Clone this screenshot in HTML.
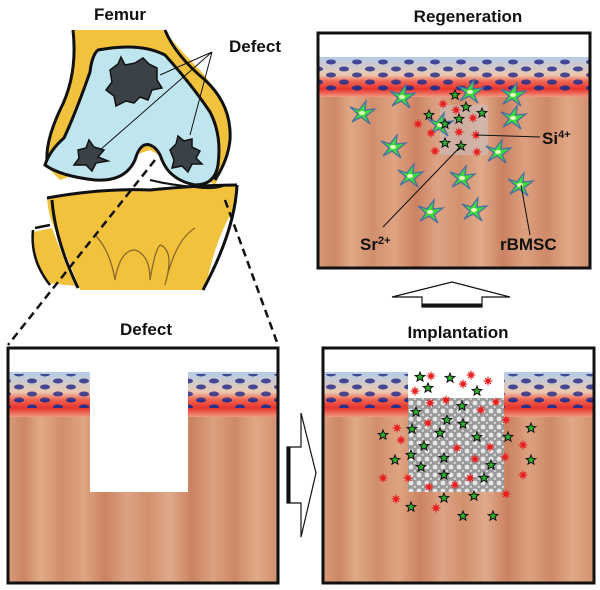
<!DOCTYPE html>
<html><head><meta charset="utf-8"><style>
html,body{margin:0;padding:0;background:#fff;}
svg{display:block}
text{font-family:"Liberation Sans",Arial,sans-serif;font-weight:bold;fill:#111}
</style></head><body>
<svg width="600" height="590" viewBox="0 0 600 590" xmlns="http://www.w3.org/2000/svg">
<defs>
<linearGradient id="tis" x1="0" y1="0" x2="1" y2="0">
<stop offset="0" stop-color="#d99a78"/><stop offset="0.06" stop-color="#cd8766"/>
<stop offset="0.12" stop-color="#e0aa86"/><stop offset="0.2" stop-color="#d18e6c"/>
<stop offset="0.28" stop-color="#dfa482"/><stop offset="0.36" stop-color="#cc8362"/>
<stop offset="0.44" stop-color="#dda384"/><stop offset="0.52" stop-color="#d2906e"/>
<stop offset="0.6" stop-color="#e0aa8a"/><stop offset="0.68" stop-color="#cb8262"/>
<stop offset="0.76" stop-color="#dca180"/><stop offset="0.84" stop-color="#ce8968"/>
<stop offset="0.92" stop-color="#e0a886"/><stop offset="1" stop-color="#d2906f"/>
</linearGradient>
<linearGradient id="band" x1="0" y1="0" x2="0" y2="1">
<stop offset="0" stop-color="#b4cde8"/><stop offset="0.45" stop-color="#ecc8b0"/>
<stop offset="0.6" stop-color="#f06a55"/><stop offset="0.8" stop-color="#e8332c"/><stop offset="1" stop-color="#f09a80"/>
</linearGradient>
<pattern id="cells" width="26" height="13" patternUnits="userSpaceOnUse">
<ellipse cx="6" cy="4" rx="5" ry="2.5" fill="#2b2f8a"/>
<ellipse cx="19" cy="10" rx="5" ry="2.5" fill="#2b2f8a"/>
</pattern>
<pattern id="scaf" width="8" height="8" patternUnits="userSpaceOnUse">
<rect width="8" height="8" fill="#9a9a9a"/>
<circle cx="3" cy="3" r="2.4" fill="#e8e8e8"/><circle cx="7" cy="7" r="1.5" fill="#cfcfcf"/>
</pattern>
<polygon id="st" points="0,-5 1.3,-1.7 4.8,-1.5 2.1,0.7 3,4.1 0,2.2 -3,4.1 -2.1,0.7 -4.8,-1.5 -1.3,-1.7" fill="#2db52d" stroke="#111" stroke-width="1"/>
<g id="rd"><circle r="2.6" fill="#e82020"/><path d="M0,-4.5V4.5M-4.5,0H4.5M-3,-3L3,3M3,-3L-3,3" stroke="#e82020" stroke-width="1"/></g>
<g id="gc"><path d="M-12,-6 L-3,-3 L4,-12 L3,-3 L13,-4 L4,3 L8,11 L-1,4 L-10,9 L-4,1 Z" fill="#3ddc3d" stroke="#4a6fa0" stroke-width="1.3"/><ellipse cx="0" cy="0" rx="3" ry="2" fill="#e8f8c0"/></g>
</defs>

<!-- Femur drawing -->
<path d="M73,30 Q80,70 60,110 Q45,140 45,165 L60,180 L150,150 L215,185 L230,150 Q235,110 200,70 Q170,40 165,30 Z" fill="#f2c23c" stroke="none"/>
<path d="M73,30 Q78,75 60,110 Q46,140 47,160" fill="none" stroke="#111" stroke-width="3"/>
<path d="M165,30 Q175,55 205,80 Q232,105 230,140 Q228,160 215,180" fill="none" stroke="#111" stroke-width="3"/>
<path d="M98,50 Q140,42 165,55 Q192,85 210,112 Q222,135 218,165 Q215,185 195,185 Q170,180 162,160 Q158,148 150,145 Q140,142 135,160 Q125,182 95,180 Q60,176 45,165 Q50,150 64,138 Q76,112 90,72 Q92,55 98,50 Z" fill="#bfe6ee" stroke="#111" stroke-width="3"/>
<path d="M110,70 l8,-6 l3,-7 l4,8 l10,-2 l8,-5 l6,6 l8,4 l0,12 l5,8 l-10,2 l-4,10 l-8,-3 l-6,6 l-8,-2 l-10,5 l-2,-10 l-8,-6 l6,-8 z" fill="#3a4248" stroke="#111" stroke-width="1.5"/>
<path d="M78,150 l8,-2 l3,-8 l5,7 l10,3 l-6,7 l10,4 l-12,2 l-4,8 l-6,-6 l-12,0 l5,-7 z" fill="#3a4248" stroke="#111" stroke-width="1.5"/>
<path d="M170,150 l6,-6 l2,-8 l6,5 l8,-2 l0,8 l8,4 l-4,7 l6,6 l-10,0 l-4,8 l-6,-6 l-10,2 l2,-8 z" fill="#3a4248" stroke="#111" stroke-width="1.5"/>
<path d="M47,198 Q100,188 150,190 Q200,185 237,185 L233,210 Q215,240 205,290 L80,290 Q65,250 55,230 Q48,215 47,198 Z" fill="#f2c23c"/>
<path d="M47,198 Q100,188 150,190 Q200,185 237,185" fill="none" stroke="#111" stroke-width="3"/>
<path d="M52,200 Q55,240 78,288" fill="none" stroke="#111" stroke-width="3"/>
<path d="M237,185 Q235,230 203,290" fill="none" stroke="#111" stroke-width="3"/>
<path d="M33,232 Q32,258 48,283 L75,286 Q62,255 52,228 Z" fill="#f2c23c"/>
<path d="M35,228 L50,225 M33,230 Q30,260 50,285" fill="none" stroke="#111" stroke-width="2.5"/>
<path d="M95,235 Q110,250 115,280 M115,280 Q120,250 135,250 Q150,255 150,280 M150,280 Q155,250 160,245 M160,245 Q175,250 165,285 M165,285 Q175,240 195,228" fill="none" stroke="#8a6a2a" stroke-width="1.3"/>
<path d="M150,180 Q170,185 195,187 Q215,190 225,185" fill="none" stroke="#111" stroke-width="2"/>
<path d="M212,52 L160,75 M212,52 L100,150 M212,52 L190,135" stroke="#111" stroke-width="1"/>
<path d="M155,160 L8,345 M225,200 L278,345" stroke="#111" stroke-width="2.5" stroke-dasharray="8,5" fill="none"/>
<text x="120" y="20" font-size="17" text-anchor="middle">Femur</text>
<text x="255" y="52" font-size="17" text-anchor="middle">Defect</text>
<text x="146" y="335" font-size="17" text-anchor="middle">Defect</text>
<text x="468" y="22" font-size="17" text-anchor="middle">Regeneration</text>
<text x="458" y="338" font-size="17" text-anchor="middle">Implantation</text>

<!-- Top-right panel -->
<g>
<rect x="318" y="33" width="272" height="235" fill="#fff"/>
<rect x="318" y="85" width="272" height="183" fill="url(#tis)"/>
<rect x="318" y="57" width="272" height="40" fill="url(#band)"/>
<rect x="318" y="59" width="272" height="26" fill="url(#cells)" opacity="0.85"/>
<rect x="318" y="83" width="272" height="8" fill="url(#cells)"/>
<rect x="440" y="105" width="48" height="50" fill="#c8c0c0" opacity="0.6"/>
<use href="#gc" x="402" y="97"/><use href="#gc" x="362" y="113"/><use href="#gc" x="513" y="95"/>
<use href="#gc" x="470" y="92"/><use href="#gc" x="440" y="125"/><use href="#gc" x="513" y="118"/>
<use href="#gc" x="393" y="147"/><use href="#gc" x="498" y="152"/><use href="#gc" x="410" y="176"/>
<use href="#gc" x="462" y="178"/><use href="#gc" x="520" y="185"/><use href="#gc" x="430" y="212"/>
<use href="#gc" x="474" y="210"/>
<use href="#st" x="455" y="95"/><use href="#st" x="466" y="107"/><use href="#st" x="429" y="115"/>
<use href="#st" x="459" y="119"/><use href="#st" x="482" y="113"/><use href="#st" x="445" y="124"/>
<use href="#st" x="445" y="143"/><use href="#st" x="461" y="146"/>
<use href="#rd" x="443" y="104"/><use href="#rd" x="456" y="110"/><use href="#rd" x="418" y="124"/>
<use href="#rd" x="473" y="118"/><use href="#rd" x="459" y="132"/><use href="#rd" x="476" y="135"/>
<use href="#rd" x="435" y="151"/><use href="#rd" x="477" y="152"/><use href="#rd" x="431" y="133"/>
<path d="M476,135 L540,137 M461,146 L383,227 M521,185 L530,235" stroke="#111" stroke-width="1"/>
<text x="542" y="144" font-size="17">Si<tspan font-size="11" dy="-6">4+</tspan></text>
<text x="360" y="250" font-size="17">Sr<tspan font-size="11" dy="-6">2+</tspan></text>
<text x="500" y="250" font-size="17">rBMSC</text>
<rect x="318" y="33" width="272" height="235" fill="none" stroke="#111" stroke-width="3"/>
</g>

<path d="M452,282 L510,297 L482,297 L482,307 L422,307 L422,297 L392,297 Z" fill="#fff" stroke="#111" stroke-width="1.2"/>
<path d="M422,305 L482,305" stroke="#111" stroke-width="3"/>

<!-- Bottom-left panel -->
<g>
<rect x="8" y="348" width="270" height="235" fill="#fff"/>
<rect x="8" y="410" width="270" height="173" fill="url(#tis)"/>
<rect x="8" y="372" width="270" height="45" fill="url(#band)"/>
<rect x="8" y="374" width="270" height="28" fill="url(#cells)" opacity="0.85"/>
<rect x="8" y="400" width="270" height="8" fill="url(#cells)"/>
<rect x="90" y="372" width="98" height="120" fill="#fff"/>
<rect x="8" y="348" width="270" height="235" fill="none" stroke="#111" stroke-width="3"/>
</g>

<path d="M287,447 L301,447 L301,413 L316,473 L301,537 L301,503 L287,503 Z" fill="#fff" stroke="#111" stroke-width="1.2"/>
<path d="M289,447 L289,503" stroke="#111" stroke-width="3"/>

<!-- Bottom-right panel -->
<g>
<rect x="323" y="348" width="271" height="235" fill="#fff"/>
<rect x="323" y="410" width="271" height="173" fill="url(#tis)"/>
<rect x="323" y="372" width="271" height="45" fill="url(#band)"/>
<rect x="323" y="374" width="271" height="28" fill="url(#cells)" opacity="0.85"/>
<rect x="323" y="400" width="271" height="8" fill="url(#cells)"/>
<rect x="408" y="372" width="96" height="26" fill="#fff"/>
<rect x="408" y="398" width="96" height="94" fill="url(#scaf)"/>
<use href="#st" x="420" y="377"/><use href="#st" x="450" y="378"/><use href="#st" x="428" y="388"/><use href="#st" x="477" y="391"/>
<use href="#st" x="416" y="412"/><use href="#st" x="447" y="420"/><use href="#st" x="462" y="406"/><use href="#st" x="463" y="424"/>
<use href="#st" x="412" y="429"/><use href="#st" x="440" y="433"/><use href="#st" x="477" y="437"/><use href="#st" x="424" y="446"/>
<use href="#st" x="411" y="455"/><use href="#st" x="444" y="458"/><use href="#st" x="491" y="465"/><use href="#st" x="421" y="467"/>
<use href="#st" x="444" y="475"/><use href="#st" x="484" y="478"/><use href="#st" x="383" y="435"/><use href="#st" x="395" y="460"/>
<use href="#st" x="531" y="428"/><use href="#st" x="508" y="437"/><use href="#st" x="531" y="460"/>
<use href="#st" x="411" y="507"/><use href="#st" x="444" y="498"/><use href="#st" x="474" y="496"/><use href="#st" x="463" y="516"/><use href="#st" x="493" y="516"/>
<use href="#rd" x="431" y="376"/><use href="#rd" x="471" y="375"/><use href="#rd" x="463" y="384"/><use href="#rd" x="488" y="381"/><use href="#rd" x="415" y="391"/>
<use href="#rd" x="430" y="403"/><use href="#rd" x="446" y="400"/><use href="#rd" x="496" y="402"/><use href="#rd" x="481" y="410"/>
<use href="#rd" x="397" y="428"/><use href="#rd" x="401" y="440"/><use href="#rd" x="428" y="423"/><use href="#rd" x="457" y="448"/>
<use href="#rd" x="475" y="459"/><use href="#rd" x="490" y="447"/><use href="#rd" x="506" y="420"/><use href="#rd" x="505" y="457"/>
<use href="#rd" x="523" y="445"/><use href="#rd" x="523" y="475"/><use href="#rd" x="383" y="478"/><use href="#rd" x="408" y="478"/>
<use href="#rd" x="429" y="487"/><use href="#rd" x="455" y="485"/><use href="#rd" x="470" y="478"/><use href="#rd" x="506" y="494"/>
<use href="#rd" x="396" y="499"/><use href="#rd" x="436" y="508"/>
<rect x="323" y="348" width="271" height="235" fill="none" stroke="#111" stroke-width="3"/>
</g>
</svg>
</body></html>
